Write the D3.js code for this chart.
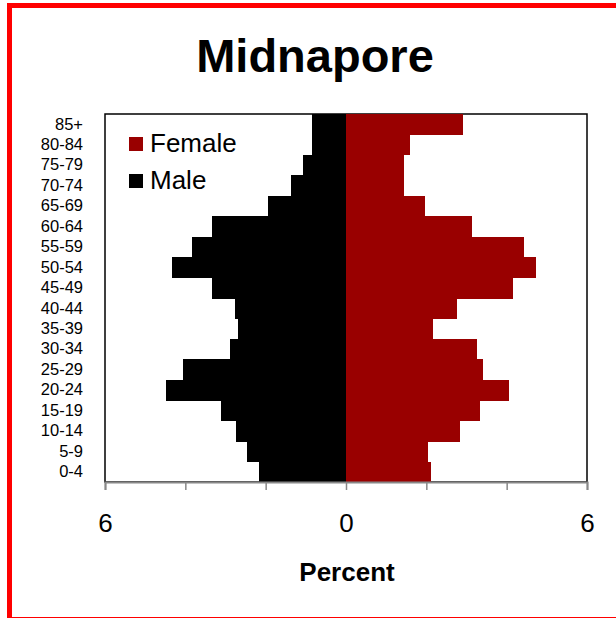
<!DOCTYPE html>
<html>
<head>
<meta charset="utf-8">
<script src="https://cdn.jsdelivr.net/npm/d3@7"></script>
<style>
  body { margin: 0; background: #fff; }
  svg { display: block; font-family: "Liberation Sans", Arial, sans-serif; }
</style>
</head>
<body>
<div id="chart"></div>
<script>
// Age groups, youngest first
const ageGroups = ["0-4", "5-9", "10-14", "15-19", "20-24", "25-29", "30-34", "35-39",
  "40-44", "45-49", "50-54", "55-59", "60-64", "65-69", "70-74", "75-79", "80-84", "85+"];

// Percent of population
const maleValues = [2.17, 2.46, 2.75, 3.11, 4.49, 4.07, 2.90, 2.68,
  2.76, 3.33, 4.34, 3.83, 3.33, 1.95, 1.37, 1.08, 0.85, 0.85];
const femaleValues = [2.11, 2.03, 2.83, 3.34, 4.07, 3.41, 3.27, 2.17,
  2.76, 4.15, 4.72, 4.44, 3.13, 1.97, 1.45, 1.45, 1.60, 2.92];

const xTicks = [-6, -4, -2, 0, 2, 4, 6];
const xLabelled = [-6, 0, 6];

const W = 616, H = 618;
const plot = { left: 105, right: 587, top: 114, bottom: 482 };

const svg = d3.select("#chart").append("svg")
    .attr("width", W)
    .attr("height", H);

// red frame (right edge runs off the picture)
svg.append("rect")
    .attr("x", 9.5).attr("y", 5.5)
    .attr("width", 640).attr("height", 614)
    .attr("fill", "none")
    .attr("stroke", "#ff0000")
    .attr("stroke-width", 5);

const x = d3.scaleLinear().domain([-6, 6]).range([plot.left, plot.right]);
const y = d3.scaleBand().domain(ageGroups).range([plot.bottom, plot.top]).padding(0);

const data = ageGroups.map((a, i) => ({ age: a, male: maleValues[i], female: femaleValues[i] }));

// plot frame
svg.append("rect")
    .attr("x", plot.left).attr("y", plot.top)
    .attr("width", plot.right - plot.left)
    .attr("height", plot.bottom - plot.top)
    .attr("fill", "#fff")
    .attr("stroke", "#000")
    .attr("stroke-width", 1.5);

// male bars (to the left)
svg.selectAll(".male")
    .data(data)
    .enter().append("rect")
    .attr("class", "male")
    .attr("x", d => x(-d.male))
    .attr("y", d => y(d.age))
    .attr("width", d => x(0) - x(-d.male))
    .attr("height", y.bandwidth() + 0.5)
    .attr("fill", "#000")
    .attr("shape-rendering", "crispEdges");

// female bars (to the right)
svg.selectAll(".female")
    .data(data)
    .enter().append("rect")
    .attr("class", "female")
    .attr("x", x(0))
    .attr("y", d => y(d.age))
    .attr("width", d => x(d.female) - x(0))
    .attr("height", y.bandwidth() + 0.5)
    .attr("fill", "#990000")
    .attr("shape-rendering", "crispEdges");

// x axis
const xAxis = d3.axisBottom(x)
    .tickValues(xTicks)
    .tickSize(8)
    .tickFormat(d => xLabelled.includes(d) ? Math.abs(d) : "");

const gx = svg.append("g")
    .attr("transform", `translate(0, ${plot.bottom})`)
    .call(xAxis);
gx.select(".domain").attr("stroke", "#888").attr("stroke-width", 2);
gx.selectAll(".tick line").attr("stroke", "#888").attr("stroke-width", 1.5);
gx.selectAll(".tick text")
    .attr("y", 50).attr("dy", 0)
    .style("font-size", "26px")
    .attr("fill", "#000");

// y axis labels
const gy = svg.append("g")
    .attr("transform", `translate(${plot.left}, 0)`)
    .call(d3.axisLeft(y).tickSize(0).tickPadding(22));
gy.select(".domain").remove();
gy.selectAll(".tick text")
    .style("font-size", "16.5px")
    .attr("fill", "#000");

// title
svg.append("text")
    .attr("x", 315).attr("y", 72)
    .attr("text-anchor", "middle")
    .style("font-size", "47px")
    .style("font-weight", "bold")
    .text("Midnapore");

// axis title
svg.append("text")
    .attr("x", 347).attr("y", 581)
    .attr("text-anchor", "middle")
    .style("font-size", "26px")
    .style("font-weight", "bold")
    .text("Percent");

// legend
const legendItems = [
    { label: "Female", color: "#990000", y: 137 },
    { label: "Male", color: "#000", y: 174 }
];
const lg = svg.append("g");
legendItems.forEach(item => {
    lg.append("rect")
        .attr("x", 129).attr("y", item.y)
        .attr("width", 14).attr("height", 14)
        .attr("fill", item.color);
    lg.append("text")
        .attr("x", 150).attr("y", item.y + 15)
        .style("font-size", "26px")
        .text(item.label);
});
</script>
</body>
</html>
